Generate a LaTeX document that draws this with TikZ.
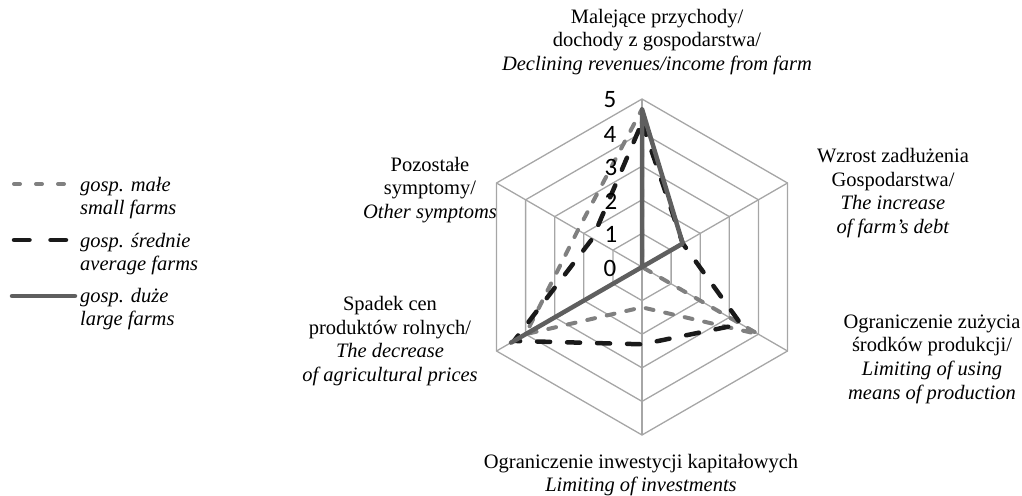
\documentclass[tikz,border=0pt]{standalone}
\usepackage{fontspec}
\setmainfont{Liberation Serif}
\newfontfamily\numfont{Carlito}
\definecolor{gridgray}{HTML}{A6A6A6}
\definecolor{smallcol}{HTML}{808080}
\definecolor{medcol}{HTML}{1A1A1A}
\definecolor{largecol}{HTML}{5F5F5F}
\tikzset{
  gridline/.style={draw=gridgray, line width=1.3pt},
  smallser/.style={draw=smallcol, line width=4pt, dash pattern=on 8pt off 12pt, line cap=round, line join=round},
  medser/.style={draw=medcol, line width=4.5pt, dash pattern=on 13pt off 17pt, line cap=round, line join=round},
  largeser/.style={draw=largecol, line width=4.5pt, line join=round},
  lbl/.style={font=\fontsize{20.5}{23.7}\selectfont, align=center, inner sep=0pt},
  leglbl/.style={font=\fontsize{20.5}{23.7}\selectfont\itshape, align=left, inner sep=0pt, anchor=west},
  num/.style={font=\numfont\fontsize{25}{28}\selectfont, inner sep=0pt}
}
\begin{document}
\begin{tikzpicture}[x=1pt,y=-1pt]
\useasboundingbox (0,0) rectangle (1022,495);
\begin{scope}[shift={(642,267)}, x=33.6pt, y=33.6pt]
  \coordinate (O) at (0,0);
  \foreach \r in {1,...,5}
    \draw[gridline] (90:\r) -- (30:\r) -- (-30:\r) -- (-90:\r) -- (210:\r) -- (150:\r) -- cycle;
  \foreach \a in {90,30,-30,-90,210,150}
    \draw[gridline] (O) -- (\a:5);
  % small farms
  \coordinate (s0) at (90:4.7);
  \coordinate (s1) at (30:0);
  \coordinate (s2) at (-30:4.0);
  \coordinate (s3) at (-90:1.2);
  \coordinate (s4) at (210:4.0);
  \coordinate (s5) at (150:2.2);
  % average farms
  \coordinate (m0) at (90:4.3);
  \coordinate (m1) at (30:1.4);
  \coordinate (m2) at (-30:3.4);
  \coordinate (m3) at (-90:2.3);
  \coordinate (m4) at (210:4.4);
  \coordinate (m5) at (150:1.7);
  % large farms
  \coordinate (l0) at (90:4.7);
  \coordinate (l1) at (30:1.4);
  \coordinate (l2) at (-30:0);
  \coordinate (l3) at (-90:0);
  \coordinate (l4) at (210:4.5);
  \coordinate (l5) at (150:0);
  \draw[smallser] (s0) -- (s1) -- (s2) -- (s3) -- (s4) -- (s5) -- cycle;
  \draw[medser] (m0) -- (m1) -- (m2) -- (m3) -- (m4) -- (m5) -- cycle;
  \draw[largeser] (l0) -- (l1) -- (l2) -- (l3) -- (l4) -- (l5) -- cycle;
\end{scope}
% axis numbers
\node[num] (n0) at (610,268) {0};
\node[num] (n1) at (611,234.5) {1};
\node[num] (n2) at (611,201) {2};
\node[num] (n3) at (611,167.5) {3};
\node[num] (n4) at (610,134) {4};
\node[num] (n5) at (610,100) {5};
% axis labels
\node[lbl] (t0) at (657,42) {Malejące przychody/\\dochody z gospodarstwa/\\\textit{Declining revenues/income from farm}};
\node[lbl] (t1) at (893,193) {Wzrost zadłużenia\\Gospodarstwa/\\\textit{The increase}\\\textit{of farm's debt}};
\node[lbl] (t2) at (932,359) {Ograniczenie zużycia\\środków produkcji/\\\textit{Limiting of using}\\\textit{means of production}};
\node[lbl] (t3) at (641,475) {Ograniczenie inwestycji kapitałowych\\\textit{Limiting of investments}};
\node[lbl] (t4) at (390,341) {Spadek cen\\produktów rolnych/\\\textit{The decrease}\\\textit{of agricultural prices}};
\node[lbl] (t5) at (430,190) {Pozostałe\\symptomy/\\\textit{Other symptoms}};
% legend
\coordinate (ls1) at (14,184);
\coordinate (le1) at (64,184);
\coordinate (ls2) at (14,240);
\coordinate (le2) at (66,240);
\coordinate (ls3) at (12,296);
\coordinate (le3) at (75,296);
\draw[smallser, dash pattern=on 6pt off 16pt] (ls1) -- (le1);
\draw[medser, dash pattern=on 15.5pt off 21pt] (ls2) -- (le2);
\draw[largeser, line cap=round] (ls3) -- (le3);
\node[leglbl] (g1) at (80,198) {gosp. małe\\small farms};
\node[leglbl] (g2) at (80,254) {gosp. średnie\\average farms};
\node[leglbl] (g3) at (80,309) {gosp. duże\\large farms};
\end{tikzpicture}
\end{document}
